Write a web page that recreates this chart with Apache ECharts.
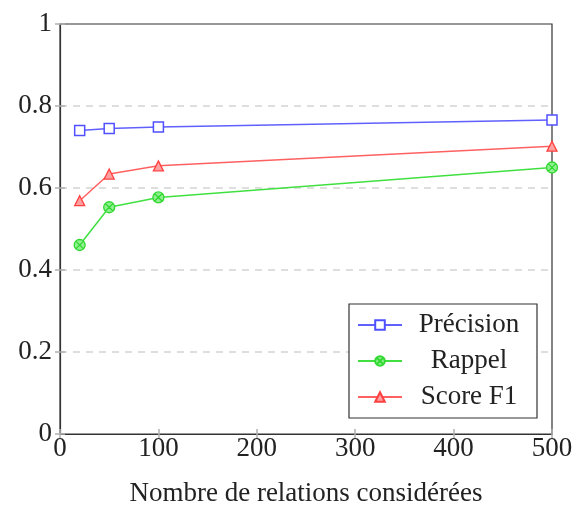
<!DOCTYPE html>
<html>
<head>
<meta charset="utf-8">
<script src="https://cdn.jsdelivr.net/npm/echarts@6/dist/echarts.min.js"></script>
<style>html,body{margin:0;padding:0;background:#fff}#c{width:576px;height:505px}</style>
</head>
<body>
<div id="c"></div>
<script>
const xValues = [20, 50, 100, 500];
const precision = [0.740, 0.745, 0.749, 0.766];
const rappel = [0.461, 0.553, 0.577, 0.650];
const scoreF1 = [0.569, 0.634, 0.654, 0.702];
const seriesNames = ['Précision', 'Rappel', 'Score F1'];
const xTicks = [0, 100, 200, 300, 400, 500];
const yTicks = [0, 0.2, 0.4, 0.6, 0.8, 1];

const FONT = '"Liberation Serif", "DejaVu Serif", serif';
const pair = (arr) => xValues.map((x, i) => [x, arr[i]]);
const otimes = 'path://M0,-1A1,1,0,1,1,0,1A1,1,0,1,1,0,-1Z M-0.7,-0.7L0.7,0.7 M0.7,-0.7L-0.7,0.7';

const chart = echarts.init(document.getElementById('c'), null, {renderer: 'canvas'});
const tickStyle = {show: true, inside: true, length: 5, lineStyle: {color: '#b0b0b0', width: 1.5}};
chart.setOption({
  animation: false,
  backgroundColor: '#fff',
  grid: {left: 60, right: 24, top: 24, bottom: 71, show: true, borderColor: '#333', borderWidth: 1.2,
    containLabel: false, outerBoundsMode: 'none'},
  xAxis: [{
    type: 'value', min: 0, max: 500, interval: 100,
    name: 'Nombre de relations considérées', nameLocation: 'middle', nameGap: 46,
    nameTextStyle: {fontFamily: FONT, fontSize: 27, color: '#222'},
    axisLine: {show: true, lineStyle: {color: '#333', width: 1.2}},
    axisTick: tickStyle,
    axisLabel: {fontFamily: FONT, fontSize: 27, color: '#222', margin: 1,
      formatter: (v) => xTicks.includes(v) ? String(v) : ''},
    splitLine: {show: false}
  }, {
    type: 'value', min: 0, max: 500, interval: 100, position: 'top',
    axisLine: {show: false}, axisTick: tickStyle, axisLabel: {show: false}, splitLine: {show: false}
  }],
  yAxis: [{
    type: 'value', min: 0, max: 1, interval: 0.2,
    axisLine: {show: true, lineStyle: {color: '#333', width: 1.2}},
    axisTick: tickStyle,
    axisLabel: {fontFamily: FONT, fontSize: 27, color: '#222', margin: 8,
      formatter: (v) => String(yTicks.find(t => Math.abs(t - v) < 1e-9) ?? v)},
    splitLine: {show: true, showMinLine: false, showMaxLine: false,
      lineStyle: {color: '#d4d4d4', width: 1.5, type: [7, 6]}}
  }, {
    type: 'value', min: 0, max: 1, interval: 0.2, position: 'right',
    axisLine: {show: false}, axisTick: tickStyle, axisLabel: {show: false}, splitLine: {show: false}
  }],
  legend: {
    orient: 'vertical', left: 349, top: 304,
    backgroundColor: '#fff', borderColor: '#333', borderWidth: 1.2,
    padding: [6, 6, 6, 8], itemGap: 6, itemWidth: 44, itemHeight: 12,
    data: seriesNames,
    formatter: (n) => '{c|' + n + '}',
    textStyle: {fontFamily: FONT, fontSize: 27, color: '#222', lineHeight: 30,
      rich: {c: {width: 124, align: 'center', fontFamily: FONT, fontSize: 27, color: '#222', lineHeight: 30}}}
  },
  series: [{
    name: seriesNames[0], type: 'line', data: pair(precision),
    symbol: 'rect', symbolSize: 10,
    lineStyle: {color: '#6060ff', width: 1.5},
    itemStyle: {color: '#ffffff', borderColor: '#5050ff', borderWidth: 1.5},
    color: '#6060ff'
  }, {
    name: seriesNames[1], type: 'line', data: pair(rappel),
    symbol: otimes, symbolSize: 11,
    lineStyle: {color: '#40e040', width: 1.5},
    itemStyle: {color: '#90f090', borderColor: '#30d830', borderWidth: 1.3},
    color: '#40e040'
  }, {
    name: seriesNames[2], type: 'line', data: pair(scoreF1),
    symbol: 'triangle', symbolSize: 10,
    lineStyle: {color: '#ff6060', width: 1.5},
    itemStyle: {color: '#ffa0a0', borderColor: '#ff4040', borderWidth: 1.3},
    color: '#ff6060'
  }]
});
</script>
</body>
</html>
